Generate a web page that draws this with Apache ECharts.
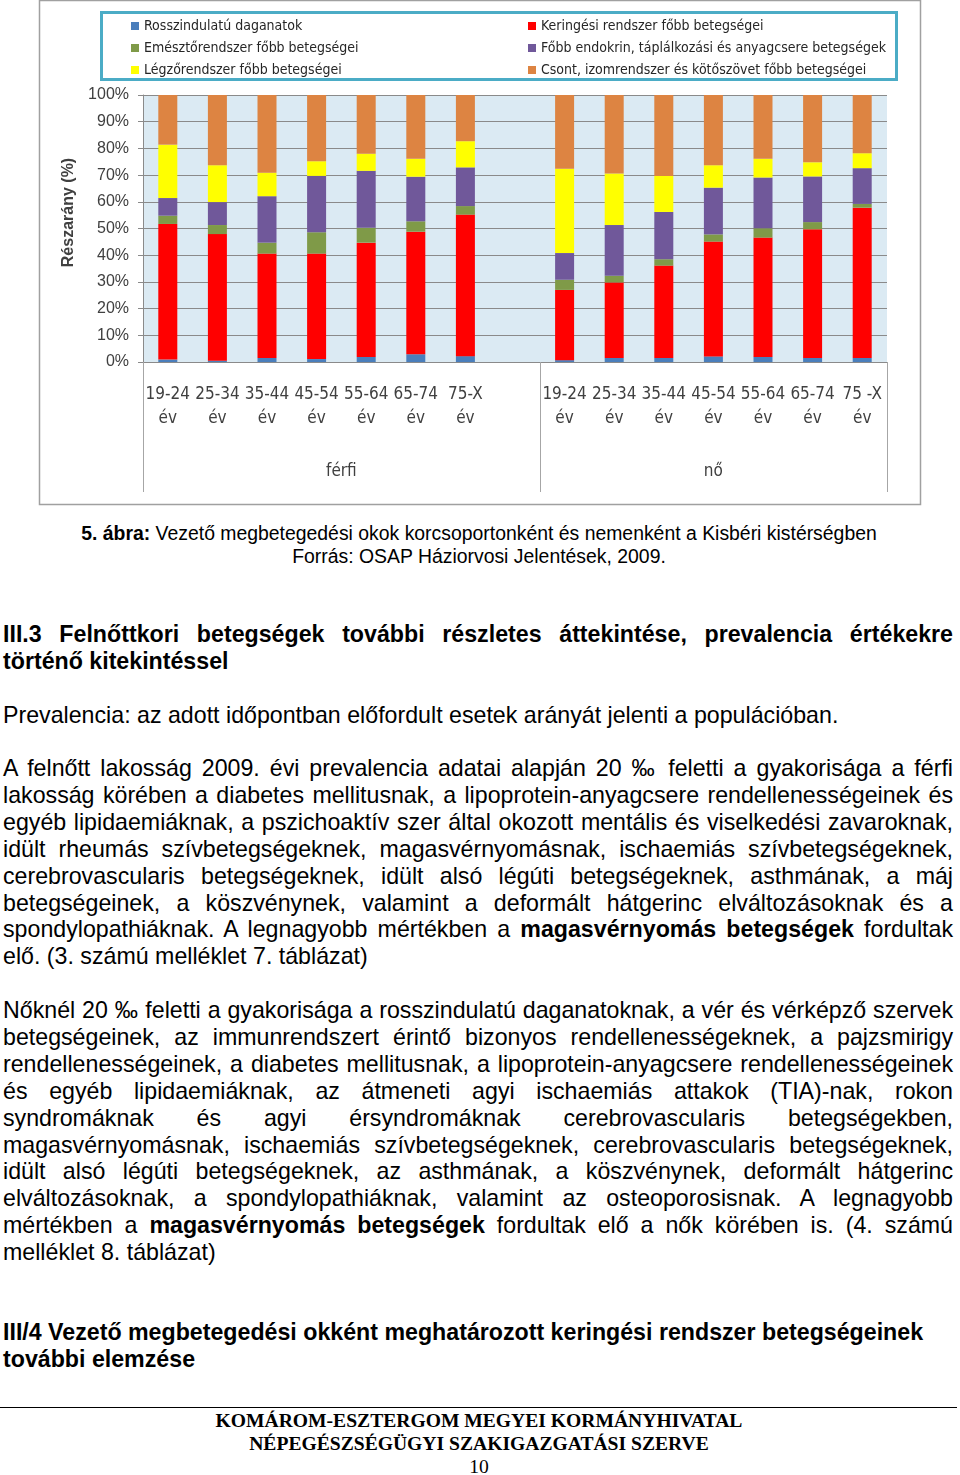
<!DOCTYPE html>
<html><head><meta charset="utf-8">
<script src="https://cdn.jsdelivr.net/npm/echarts@6/dist/echarts.min.js"></script>
<style>
body{margin:0;background:#fff;width:960px;height:1475px;position:relative;overflow:hidden;font-family:'Liberation Sans',Arial,sans-serif;color:#000;}
#chart{position:absolute;left:0;top:0;width:960px;height:510px;}
.l{position:absolute;left:3px;width:950px;font-size:23.2px;line-height:27px;white-space:nowrap}
.j{text-align:justify;text-align-last:justify;white-space:normal}
.h{font-weight:bold;font-size:23.2px}
.c{position:absolute;left:0;width:958px;text-align:center;font-size:19.4px;line-height:23px}
.f{position:absolute;left:0;width:958px;text-align:center;font-family:'Liberation Serif','Times New Roman',serif;font-size:19.6px;line-height:23px}
#rule{position:absolute;left:0;top:1407px;width:957px;height:0;border-top:1.5px solid #000}
</style>
</head><body>
<div id="chart"></div>

<div class="c" style="top:522px"><b>5. ábra:</b> Vezető megbetegedési okok korcsoportonként és nemenként a Kisbéri kistérségben</div>
<div class="c" style="top:545px">Forrás: OSAP Háziorvosi Jelentések, 2009.</div>

<div class="l h j" style="top:621px">III.3 Felnőttkori betegségek további részletes áttekintése, prevalencia értékekre</div>
<div class="l h" style="top:648px">történő kitekintéssel</div>

<div class="l" style="top:702px">Prevalencia: az adott időpontban előfordult esetek arányát jelenti a populációban.</div>

<div class="l j" style="top:755px">A felnőtt lakosság 2009. évi prevalencia adatai alapján 20 ‰ feletti a gyakorisága a férfi</div>
<div class="l j" style="top:782px">lakosság körében a diabetes mellitusnak, a lipoprotein-anyagcsere rendellenességeinek és</div>
<div class="l j" style="top:809px">egyéb lipidaemiáknak, a pszichoaktív szer által okozott mentális és viselkedési zavaroknak,</div>
<div class="l j" style="top:836px">idült rheumás szívbetegségeknek, magasvérnyomásnak, ischaemiás szívbetegségeknek,</div>
<div class="l j" style="top:863px">cerebrovascularis betegségeknek, idült alsó légúti betegségeknek, asthmának, a máj</div>
<div class="l j" style="top:890px">betegségeinek, a köszvénynek, valamint a deformált hátgerinc elváltozásoknak és a</div>
<div class="l j" style="top:916px">spondylopathiáknak. A legnagyobb mértékben a <b>magasvérnyomás betegségek</b> fordultak</div>
<div class="l" style="top:943px">elő. (3. számú melléklet 7. táblázat)</div>

<div class="l j" style="top:997px">Nőknél 20 ‰ feletti a gyakorisága a rosszindulatú daganatoknak, a vér és vérképző szervek</div>
<div class="l j" style="top:1024px">betegségeinek, az immunrendszert érintő bizonyos rendellenességeknek, a pajzsmirigy</div>
<div class="l j" style="top:1051px">rendellenességeinek, a diabetes mellitusnak, a lipoprotein-anyagcsere rendellenességeinek</div>
<div class="l j" style="top:1078px">és egyéb lipidaemiáknak, az átmeneti agyi ischaemiás attakok (TIA)-nak, rokon</div>
<div class="l j" style="top:1105px">syndromáknak és agyi érsyndromáknak cerebrovascularis betegségekben,</div>
<div class="l j" style="top:1132px">magasvérnyomásnak, ischaemiás szívbetegségeknek, cerebrovascularis betegségeknek,</div>
<div class="l j" style="top:1158px">idült alsó légúti betegségeknek, az asthmának, a köszvénynek, deformált hátgerinc</div>
<div class="l j" style="top:1185px">elváltozásoknak, a spondylopathiáknak, valamint az osteoporosisnak. A legnagyobb</div>
<div class="l j" style="top:1212px">mértékben a <b>magasvérnyomás betegségek</b> fordultak elő a nők körében is. (4. számú</div>
<div class="l" style="top:1239px">melléklet 8. táblázat)</div>

<div class="l h" style="top:1319px">III/4 Vezető megbetegedési okként meghatározott keringési rendszer betegségeinek</div>
<div class="l h" style="top:1346px">további elemzése</div>

<div id="rule"></div>
<div class="f" style="top:1409px;font-weight:bold">KOMÁROM-ESZTERGOM MEGYEI KORMÁNYHIVATAL</div>
<div class="f" style="top:1432px;font-weight:bold">NÉPEGÉSZSÉGÜGYI SZAKIGAZGATÁSI SZERVE</div>
<div class="f" style="top:1455px">10</div>

<script>
const categories = ['19-24\név','25-34\név','35-44\név','45-54\név','55-64\név','65-74\név','75-X\név','',
                    '19-24\név','25-34\név','35-44\név','45-54\név','55-64\név','65-74\név','75 -X\név'];
const groupLabels = ['férfi','nő'];
const groupBounds = [0, 8, 15];
const groupCenters = [4, 11.5];

const names = ['Rosszindulatú daganatok','Keringési rendszer főbb betegségei','Emésztőrendszer főbb betegségei',
               'Főbb endokrin, táplálkozási és anyagcsere betegségek','Légzőrendszer főbb betegségei',
               'Csont, izomrendszer és kötőszövet főbb betegségei'];
const colors = ['#4a7ebb','#ff0000','#7f9a48','#70589a','#ffff00','#dd8442'];

const rossz    = [0.9,0.5,1.5,1.1,1.9,2.9,2.2,null,0.7,1.5,1.5,2.1,1.9,1.5,1.5];
const kering   = [50.8,47.4,39.1,39.5,42.8,45.9,53.0,null,26.3,28.3,34.6,43.0,44.7,48.2,56.3];
const emeszt   = [3.1,3.4,4.1,8.0,5.6,3.9,3.2,null,3.8,2.5,2.4,2.7,3.5,2.7,1.4];
const endokrin = [6.6,8.6,17.4,21.1,21.3,16.7,14.5,null,10.0,19.0,17.7,17.5,19.0,17.1,13.4];
const legzo    = [20.0,13.8,8.8,5.5,6.4,6.7,9.8,null,31.6,19.3,13.5,8.4,7.0,5.3,5.6];
const csont    = [18.6,26.3,29.1,24.8,22.0,23.9,17.3,null,27.6,29.4,30.3,26.3,23.9,25.2,21.8];
const values = [rossz, kering, emeszt, endokrin, legzo, csont];

const narrow = "'DejaVu Sans Condensed','Liberation Sans',sans-serif";
const chart = echarts.init(document.getElementById('chart'), null, {renderer:'canvas'});
const legendText = {color:'#262626', fontSize:14, fontFamily:narrow};
chart.setOption({
  animation:false,
  graphic:[
    {type:'rect', z:-10, shape:{x:39.5,y:0.5,width:881,height:504}, style:{fill:'#fff',stroke:'#a0a0a0',lineWidth:1.5}},
    {type:'rect', z:-5, shape:{x:101.5,y:12.5,width:795,height:67}, style:{fill:'#fff',stroke:'#4bacc6',lineWidth:3}}
  ],
  legend:[
    {left:126, top:14, orient:'vertical', itemGap:8, itemWidth:8, itemHeight:8, icon:'rect',
     data:[names[0],names[2],names[4]], textStyle:legendText, selectedMode:false},
    {left:523, top:14, orient:'vertical', itemGap:8, itemWidth:8, itemHeight:8, icon:'rect',
     data:[names[1],names[3],names[5]], textStyle:legendText, selectedMode:false}
  ],
  grid:{left:143, right:73, top:95, bottom:148, show:true, backgroundColor:'#dbeaf3', borderWidth:0},
  xAxis:[
    {type:'category', data:categories, boundaryGap:true,
     axisLine:{lineStyle:{color:'#8a8a8a'}},
     axisTick:{interval:0, length:78, lineStyle:{color:'#a6a6a6'}},
     axisLabel:{interval:0, margin:21, lineHeight:24, fontSize:17, color:'#404040', fontFamily:narrow}},
    {type:'value', min:0, max:15, position:'bottom',
     axisLine:{show:false}, splitLine:{show:false},
     axisTick:{show:true, customValues:groupBounds, length:130, lineStyle:{color:'#a6a6a6'}},
     axisLabel:{customValues:groupCenters, margin:101, fontSize:17, color:'#404040', fontFamily:narrow,
       formatter:function(v){ return v===groupCenters[0]?groupLabels[0]:groupLabels[1]; }}}
  ],
  yAxis:{type:'value', min:0, max:100, interval:10,
    name:'Részarány (%)', nameLocation:'middle', nameGap:66, nameRotate:90,
    nameTextStyle:{fontSize:16, fontWeight:'bold', color:'#404040', padding:[0,0,0,32], fontFamily:"'Liberation Sans',sans-serif"},
    axisLine:{show:true, lineStyle:{color:'#8a8a8a'}},
    axisTick:{show:true, length:5, lineStyle:{color:'#8a8a8a'}},
    splitLine:{lineStyle:{color:'#8a8a8a'}},
    axisLabel:{formatter:'{value}%', fontSize:16, color:'#404040', margin:14, fontFamily:"'Liberation Sans',sans-serif"}},
  series: names.map((n,i)=>({name:n, type:'bar', stack:'total', barWidth:19, data:values[i],
     itemStyle:{color:colors[i]}, xAxisIndex:0}))
});
</script>
</body></html>
